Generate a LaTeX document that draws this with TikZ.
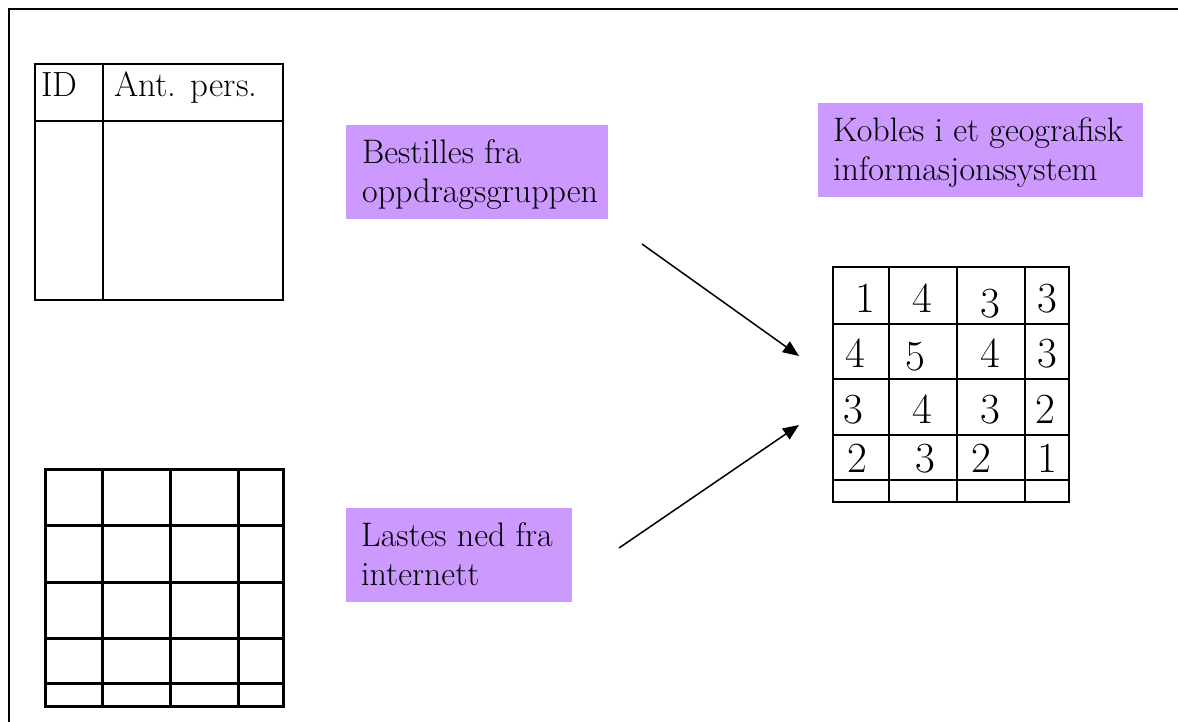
\documentclass[tikz,border=0pt]{standalone}
\usetikzlibrary{arrows.meta}
\definecolor{notepurple}{HTML}{CC99FF}
\begin{document}
\begin{tikzpicture}[x=1pt,y=-1pt,
  frameline/.style={line width=2pt},
  thingrid/.style={line width=2pt},
  thickgrid/.style={line width=3pt},
  numgrid/.style={line width=2.5pt},
  notebox/.style={fill=notepurple, draw=none, inner sep=0pt, anchor=north west},
  lbl/.style={font=\fontsize{34}{40}\selectfont, inner sep=0pt, anchor=base west},
  hdr/.style={font=\fontsize{35}{40}\selectfont, inner sep=0pt, anchor=base west},
  num/.style={font=\fontsize{43}{43}\selectfont, inner sep=0pt, anchor=base},
  arr/.style={line width=1.5pt, -{Triangle[length=16pt,width=13pt]}}]
\useasboundingbox (0,0) rectangle (1178,722);
% outer frame (top and left edges only visible)
\draw[frameline] (1178,9) -- (9,9) -- (9,722);

% top-left table
\draw[thingrid] (35,64) rectangle (283,300);
\draw[thingrid] (103,64) -- (103,300);
\draw[thingrid] (35,121) -- (283,121);
\node[hdr] (hid) at (41,97) {ID};
\node[hdr] (hant) at (114,97) {Ant. pers.};

% bottom-left empty grid
\draw[thickgrid] (45,469) rectangle (283,706);
\foreach \x in {102,170,238} \draw[thickgrid] (\x,469) -- (\x,706);
\foreach \y in {525,582,638,683} \draw[thickgrid] (45,\y) -- (283,\y);

% right number grid
\draw[numgrid] (833,267) rectangle (1069,502);
\foreach \x in {889,957,1025} \draw[numgrid] (\x,267) -- (\x,502);
\foreach \y in {324,379,435,480} \draw[numgrid] (833,\y) -- (1069,\y);
\node[num] (n11) at (865,312) {1};
\node[num] (n12) at (922,312) {4};
\node[num] (n13) at (990,317) {3};
\node[num] (n14) at (1047,312) {3};
\node[num] (n21) at (855,367) {4};
\node[num] (n22) at (915,370) {5};
\node[num] (n23) at (990,367) {4};
\node[num] (n24) at (1047,367) {3};
\node[num] (n31) at (853,423) {3};
\node[num] (n32) at (922,423) {4};
\node[num] (n33) at (990,423) {3};
\node[num] (n34) at (1045,423) {2};
\node[num] (n41) at (857,472) {2};
\node[num] (n42) at (925,472) {3};
\node[num] (n43) at (981,472) {2};
\node[num] (n44) at (1047,472) {1};

% purple notes
\node[notebox, minimum width=262pt, minimum height=94pt] (bestbox) at (346,125) {};
\node[lbl] (best1) at (362,164) {Bestilles fra};
\node[lbl] (best2) at (362,203) {oppdragsgruppen};

\node[notebox, minimum width=325pt, minimum height=94pt] (kobbox) at (818,103) {};
\node[lbl] (kob1) at (833,142) {Kobles i et geografisk};
\node[lbl] (kob2) at (833,181) {informasjonssystem};

\node[notebox, minimum width=226pt, minimum height=94pt] (lastbox) at (346,508) {};
\node[lbl] (last1) at (361,546) {Lastes ned fra};
\node[lbl] (last2) at (361,585) {internett};

% arrows
\coordinate (a1s) at (642,244);
\coordinate (a1e) at (799,356);
\coordinate (a2s) at (619,548);
\coordinate (a2e) at (799,425);
\draw[arr] (a1s) -- (a1e);
\draw[arr] (a2s) -- (a2e);
\end{tikzpicture}
\end{document}
